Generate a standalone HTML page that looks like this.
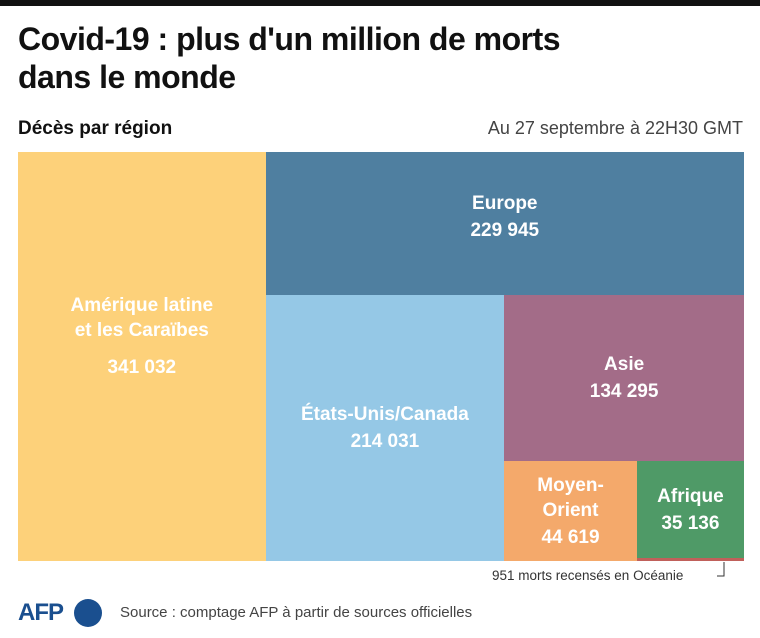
<!DOCTYPE html>
<html><head><meta charset="utf-8"><style>
body{margin:0;width:760px;height:638px;background:#fff;font-family:"Liberation Sans",sans-serif;position:relative;overflow:hidden}
.topbar{position:absolute;left:0;top:0;width:760px;height:6px;background:#111}
h1{position:absolute;left:18px;top:20px;margin:0;font-size:32px;line-height:38px;font-weight:bold;color:#111;letter-spacing:-0.5px}
.sub{position:absolute;left:18px;top:118px;font-size:19px;font-weight:bold;color:#111}
.date{position:absolute;right:17px;top:118px;font-size:18px;color:#444}
.cell{position:absolute;display:flex;flex-direction:column;align-items:center;justify-content:center;color:#fff;font-weight:bold;font-size:19px;line-height:25px;text-align:center;box-sizing:border-box}
.oc{position:absolute;font-size:13.5px;color:#333;left:492px;top:568px}
.src{position:absolute;left:120px;top:604px;font-size:15px;color:#444}
</style></head><body>
<div class="topbar"></div>
<h1>Covid-19 : plus d'un million de morts<br>dans le monde</h1>
<div class="sub">Décès par région</div>
<div class="date">Au 27 septembre à 22H30 GMT</div>
<div id="tm"></div>
<div class="oc">951 morts recensés en Océanie</div>
<svg style="position:absolute;left:0;top:0" width="760" height="638"><path d="M717 576 H724 V562" stroke="#333" fill="none" stroke-width="1"/></svg>
<div style="position:absolute;left:18px;top:599px;font-size:24px;font-weight:bold;color:#1a4f8f;letter-spacing:-1px">AFP</div>
<div style="position:absolute;left:74px;top:599px;width:28px;height:28px;border-radius:50%;background:#1a4f8f"></div>
<div class="src">Source : comptage AFP à partir de sources officielles</div>
<script>
const regions=["Amérique latine<br>et les Caraïbes","Europe","États-Unis/Canada","Asie","Moyen-<br>Orient","Afrique","Océanie"];
const values=[341032,229945,214031,134295,44619,35136,951];
const labels=["341 032","229 945","214 031","134 295","44 619","35 136",""];
const colors=["#fdd17a","#4f7fa0","#95c8e6","#a36c88","#f4a96b","#4f9a67","#c0605a"];
const names=["cell-latin-america","cell-europe","cell-us-canada","cell-asia","cell-middle-east","cell-africa","cell-oceania"];
const X0=18,Y0=152,W=726,H=409;
const tm=document.getElementById('tm');
function sum(a,b){let s=0;for(let i=a;i<values.length&&i<=b;i++)s+=values[i];return s;}
const rects=[];
let x=X0,y=Y0,w=W,h=H;
let f=values[0]/sum(0,6);rects[0]=[x,y,w*f,h];x+=w*f;w-=w*f;
f=values[1]/sum(1,6);rects[1]=[x,y,w,h*f];y+=h*f;h-=h*f;
f=values[2]/sum(2,6);rects[2]=[x,y,w*f,h];x+=w*f;w-=w*f;
f=values[3]/sum(3,6);rects[3]=[x,y,w,h*f];y+=h*f;h-=h*f;
f=values[4]/sum(4,6);rects[4]=[x,y,w*f,h];x+=w*f;w-=w*f;
f=values[5]/sum(5,6);rects[5]=[x,y,w,h*f];rects[6]=[x,y+h*f,w,h*(1-f)];
for(let i=0;i<values.length;i++){
  const r=rects[i];const d=document.createElement('div');
  
  
  d.className='cell';
  d.style.cssText=`left:${r[0]}px;top:${r[1]}px;width:${r[2]}px;height:${Math.max(r[3],3)}px;background:${colors[i]}`;
  if(labels[i]){d.innerHTML=`<div>${regions[i]}</div><div style="margin-top:${i==0?12:2}px">${labels[i]}</div>`;}
  if(i==0)d.style.paddingBottom='40px';
  if(i==1)d.style.paddingBottom='12px';
  tm.appendChild(d);
}
</script>
</body></html>
